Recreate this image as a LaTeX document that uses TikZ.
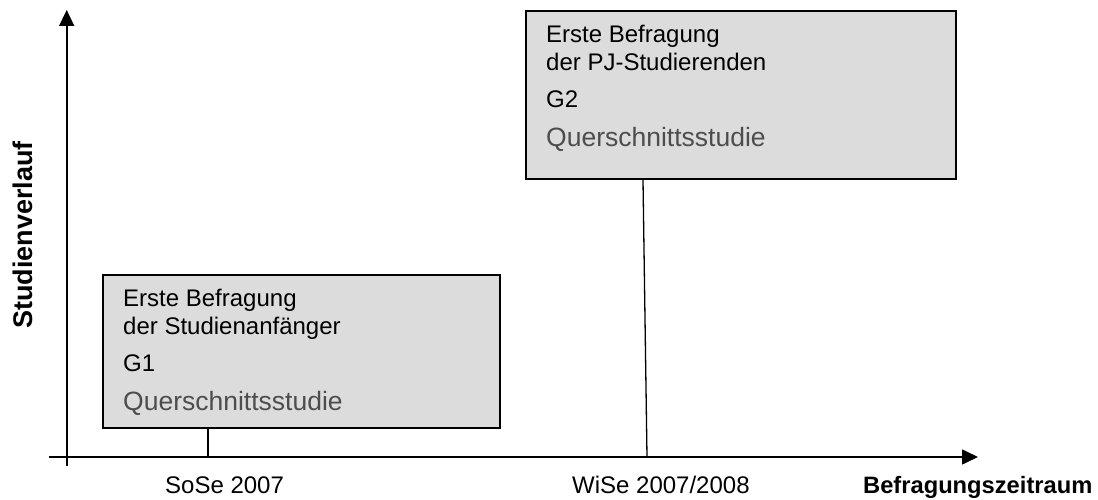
\documentclass[tikz,border=0pt]{standalone}
\usepackage{fontspec}
\setmainfont{Liberation Sans}
\usepackage{xcolor}
\usetikzlibrary{positioning, arrows.meta}

\definecolor{boxgray}{HTML}{DCDCDC}
\definecolor{textgray}{HTML}{4D4D4D}

\tikzset{
    phase/.style={draw, line width=2pt, fill=boxgray, inner sep=0pt, anchor=north west},
    phasetext/.style={align=left, inner sep=0pt, font=\fontsize{24}{28.5}\selectfont},
    axisline/.style={line width=1.6pt, -{Triangle[length=16pt,width=15pt]}},
    axislabel/.style={anchor=base west, inner sep=0pt, font=\fontsize{24}{28}\selectfont},
    timeline/.style={line width=1.3pt}
}

\newcommand{\studytype}{{\color{textgray}\fontsize{26.5}{28.5}\selectfont Querschnittsstudie}}

\begin{document}
\begin{tikzpicture}[x=1pt, y=-1pt]
    \useasboundingbox (0,0) rectangle (1098,500);

    % Define nodes
    \node[phase, minimum width=397pt, minimum height=153pt] (G1) at (102,274) {};
    \node[phasetext, below right=14.5pt and 21pt of G1.north west] (G1text)
        {Erste Befragung\\der Studienanfänger\\[8pt]G1\\[11pt]\studytype};
    \node[phase, minimum width=430pt, minimum height=168pt] (G2) at (525,10) {};
    \node[phasetext, below right=14.5pt and 21pt of G2.north west] (G2text)
        {Erste Befragung\\der PJ-Studierenden\\[8pt]G2\\[11pt]\studytype};

    \coordinate (xstart) at (49,457);
    \coordinate (xend) at (978,457);
    \coordinate (ystart) at (66.7,466);
    \coordinate (yend) at (66.7,10);
    \coordinate (T1) at (208,457);
    \coordinate (T2) at (647,457);

    % Axis labels
    \node[axislabel] (sose) at (165,493) {SoSe 2007};
    \node[axislabel] (wise) at (572,493) {WiSe 2007/2008};
    \node[axislabel, font=\fontsize{23.7}{28}\selectfont\bfseries] (xlabel) at (863,493) {Befragungszeitraum};
    \node[rotate=90, font=\fontsize{27}{30}\selectfont\bfseries] (ylabel) at (23,235) {Studienverlauf};

    % Draw axes
    \draw[axisline] (xstart) -- (xend);
    \draw[axisline] (ystart) -- (yend);

    % Draw connectors
    \draw[timeline] (G1.south -| T1) -- (T1);
    \draw[timeline] (G2.south west) ++(118,0) -- (T2);
\end{tikzpicture}
\end{document}
